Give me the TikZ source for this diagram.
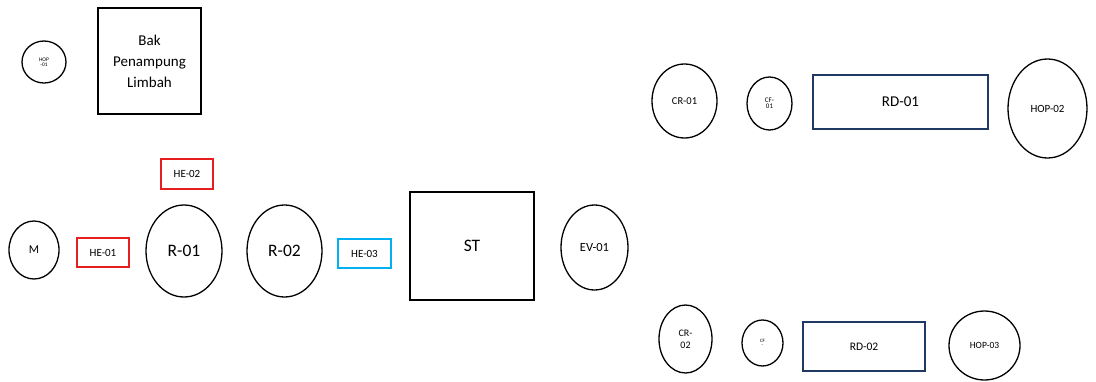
\documentclass[tikz,border=0pt]{standalone}
\usepackage{fontspec}
\setmainfont{Carlito}
\usetikzlibrary{shapes.geometric}
\definecolor{hered}{RGB}{230,30,30}
\definecolor{hecyan}{RGB}{0,176,240}
\definecolor{rdblue}{RGB}{32,56,100}
\tikzset{
  vessel/.style={draw=black, line width=1.3pt, shape=ellipse, inner sep=0pt, align=center},
  unitbox/.style={draw=black, line width=1.3pt, rectangle, inner sep=0pt, align=center},
  hebox/.style={draw=hered, line width=1.3pt, rectangle, inner sep=0pt, align=center},
  rdbox/.style={draw=rdblue, line width=1.3pt, rectangle, inner sep=0pt, align=center}
}
\newcommand{\fs}[1]{\fontsize{#1}{#1}\selectfont}
\begin{document}
\begin{tikzpicture}[x=1pt,y=-1pt]
\useasboundingbox (0,0) rectangle (1096,381);
% top-left
\node[vessel, minimum width=44pt, minimum height=42pt, font=\fs{5.5}] (hop1) at (44,62) {HOP\\[-1pt]-01};
\node[unitbox, minimum width=103pt, minimum height=106pt, font=\fontsize{15}{21}\selectfont] (bak) at (149.5,61) {Bak\\Penampung\\Limbah};
% main line
\node[hebox, minimum width=52pt, minimum height=30pt, font=\fs{11}] (he2) at (187,174) {HE-02};
\node[vessel, minimum width=50pt, minimum height=58pt, font=\fs{12}] (m) at (34,250) {M};
\node[hebox, minimum width=52pt, minimum height=29pt, font=\fs{11}] (he1) at (103,252.5) {HE-01};
\node[vessel, minimum width=76pt, minimum height=92pt, font=\fs{17.5}] (r1) at (184,251) {R-01};
\node[vessel, minimum width=75pt, minimum height=92pt, font=\fs{17.5}] (r2) at (284.5,251) {R-02};
\node[unitbox, draw=hecyan, minimum width=53pt, minimum height=29pt, font=\fs{11}] (he3) at (364.5,253.5) {HE-03};
\node[unitbox, minimum width=124pt, minimum height=108pt, font=\fs{17.5}] (st) at (472,246) {ST};
\node[vessel, minimum width=67pt, minimum height=85pt, font=\fs{12.5}] (ev1) at (594.5,247.5) {EV-01};
% upper right line
\node[vessel, minimum width=65pt, minimum height=74pt, font=\fs{10.5}] (cr1) at (684.5,101) {CR-01};
\node[vessel, minimum width=45pt, minimum height=53pt, font=\fs{7}] (cf1) at (769.5,103.5) {CF-\\[-1pt]01};
\node[rdbox, minimum width=175pt, minimum height=54pt, font=\fs{15}] (rd1) at (900.5,102) {RD-01};
\node[vessel, minimum width=79pt, minimum height=99pt, font=\fs{11}] (hop2) at (1047.5,108.5) {HOP-02};
% lower right line
\node[vessel, minimum width=53pt, minimum height=68pt, font=\fs{10}] (cr2) at (685.5,339) {CR-\\[2pt]02};
\node[vessel, minimum width=41pt, minimum height=46pt, font=\fs{5}] (cf2) at (762.5,343) {CF\\[-1pt]-};
\node[rdbox, minimum width=122pt, minimum height=49pt, font=\fs{11.5}] (rd2) at (864,346.5) {RD-02};
\node[vessel, minimum width=71pt, minimum height=69pt, font=\fs{9.5}] (hop3) at (984.5,345.5) {HOP-03};
\end{tikzpicture}
\end{document}
